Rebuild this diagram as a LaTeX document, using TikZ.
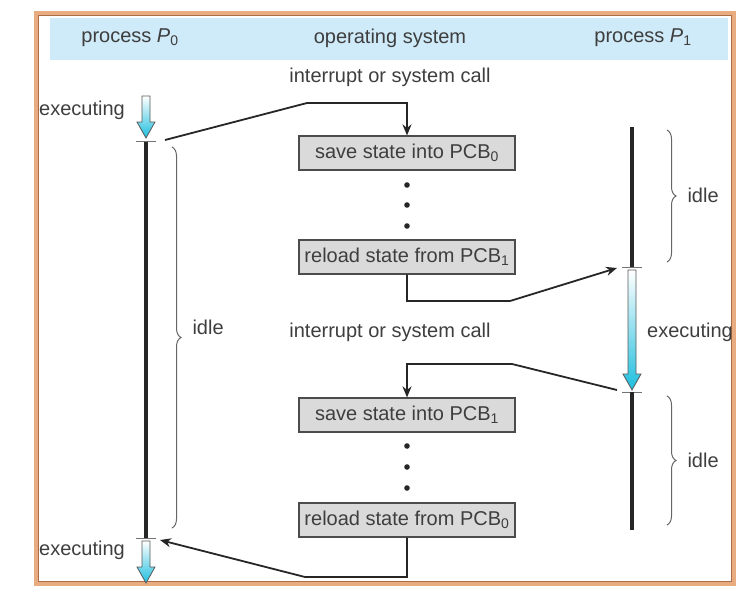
\documentclass[tikz,border=0pt]{standalone}
\usepackage{fontspec}
\setmainfont{Liberation Sans}
\usetikzlibrary{arrows.meta,decorations.pathreplacing}

\definecolor{framecol}{RGB}{232,172,128}
\definecolor{frameedge}{RGB}{170,110,70}
\definecolor{bandcol}{RGB}{207,234,248}
\definecolor{boxcol}{RGB}{218,218,218}
\definecolor{txtcol}{RGB}{62,62,62}
\definecolor{execcol}{RGB}{30,190,222}

\tikzset{
  lbl/.style={font=\fontsize{20}{23}\selectfont, text=txtcol},
  pcbbox/.style={lbl, draw=black!70, fill=boxcol, line width=1.2pt,
    minimum width=216pt, minimum height=34pt, inner sep=0pt},
  timeline/.style={line width=3.5pt, black!85},
  tick/.style={line width=0.8pt, black!55},
  idlebrace/.style={decorate, decoration={brace, amplitude=9pt}, line width=1pt, black!60},
  link/.style={line width=1.8pt, black!85},
}

% hollow shaded arrow on a timeline: x, top y, tip y
\newcommand{\execarrow}[3]{%
  \shadedraw[top color=white, bottom color=execcol, draw=black!65, line width=0.8pt]
    (#1-4,#2) -- (#1+4,#2) -- (#1+4,#3-16) -- (#1+9,#3-16) -- (#1,#3)
    -- (#1-9,#3-16) -- (#1-4,#3-16) -- cycle;}

\begin{document}
\begin{tikzpicture}[x=1pt,y=-1pt]
    \useasboundingbox (0,0) rectangle (752,595);

    % frame and header band
    \draw[framecol, line width=4pt] (36,13) rectangle (734,584);
    \draw[frameedge, line width=0.6pt] (38.5,15.5) rectangle (731.5,581.5);
    \fill[bandcol] (50,18) rectangle (728,60);

    \node[lbl] (hdrP0) at (130,38) {process \textit{P}\textsubscript{0}};
    \node[lbl] (hdrOS) at (390,38) {operating system};
    \node[lbl] (hdrP1) at (643,38) {process \textit{P}\textsubscript{1}};

    % process P0
    \execarrow{146}{96}{138}
    \draw[timeline] (146,141) -- (146,538);
    \draw[tick] (136,141) -- (156,141);
    \draw[tick] (136,538) -- (156,538);
    \execarrow{146}{541}{583}
    \coordinate (p0stop) at (165,140);
    \coordinate (p0resume) at (160,540);
    \node[lbl] (execA) at (82,110) {executing};
    \node[lbl] (execB) at (82,550) {executing};
    \draw[idlebrace] (172,147) -- (172,528);
    \node[lbl, anchor=west] (idleA) at (189,327) {idle};

    % process P1
    \draw[timeline] (632,127) -- (632,267);
    \draw[tick] (622,267) -- (642,267);
    \execarrow{632}{270}{390}
    \draw[tick] (622,392) -- (642,392);
    \draw[timeline] (632,392) -- (632,530);
    \coordinate (p1start) at (617,268);
    \coordinate (p1stop) at (617,390);
    \node[lbl] (execC) at (690,332) {executing};
    \draw[idlebrace] (667,130) -- (667,262);
    \node[lbl, anchor=west] (idleB) at (684,195) {idle};
    \draw[idlebrace] (667,396) -- (667,525);
    \node[lbl, anchor=west] (idleC) at (684,460) {idle};

    % operating system
    \node[lbl] (callA) at (390,77) {interrupt or system call};
    \node[lbl] (callB) at (390,332) {interrupt or system call};
    \node[pcbbox] (saveA) at (407,153) {save state into PCB\textsubscript{0}};
    \node[pcbbox] (reloadA) at (407,257) {reload state from PCB\textsubscript{1}};
    \node[pcbbox] (saveB) at (407,415) {save state into PCB\textsubscript{1}};
    \node[pcbbox] (reloadB) at (407,520) {reload state from PCB\textsubscript{0}};
    \foreach \y in {185,205,226,446,467,488}
        \fill[black!85] (407,\y) circle (2.8);

    \draw[link, -{Stealth[length=11pt,width=9pt]}] (p0stop) -- (307,103) -| (saveA.north);
    \draw[link, -{Stealth[length=11pt,width=9pt]}] (reloadA.south) |- (510,301) -- (p1start);
    \draw[link, -{Stealth[length=11pt,width=9pt]}] (p1stop) -- (512,364) -| (saveB.north);
    \draw[link, -{Stealth[length=11pt,width=9pt]}] (reloadB.south) |- (305,577) -- (p0resume);
\end{tikzpicture}
\end{document}
